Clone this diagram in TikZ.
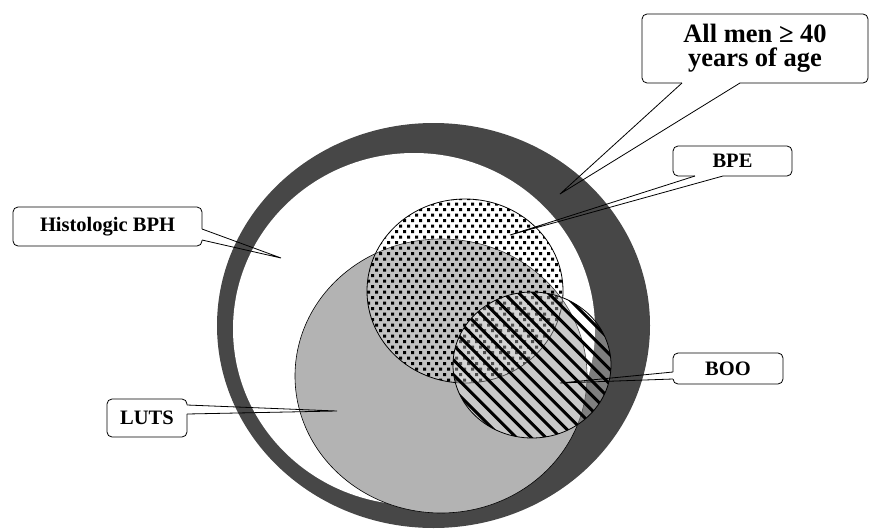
\documentclass[tikz,border=0pt]{standalone}
\usepackage{fontspec}
\setmainfont{Liberation Serif}
\definecolor{ringgray}{HTML}{474747}
\definecolor{lutsgray}{HTML}{B3B3B3}
\begin{document}
\begin{tikzpicture}[x=1pt, y=-1pt,
    callbox/.style={draw, rounded corners=5pt, fill=white, inner sep=0pt, outer sep=0pt, line width=0.8pt, font=\fontsize{20.5}{22}\selectfont\bfseries},
    wedge/.style={line width=0.8pt},
    gapfix/.style={white, line width=1.8pt}]
    \useasboundingbox (0,0) rectangle (870,530);
    \fill[ringgray] (433.5,325.5) ellipse [x radius=216.5pt, y radius=202.5pt];
    \fill[white] (414,329) ellipse [x radius=181pt, y radius=176pt];
    \filldraw[fill=lutsgray, line width=0.6pt] (441,376) ellipse [x radius=146pt, y radius=137pt];
    \fill[white, fill opacity=0.2] (465,291) ellipse [x radius=98pt, y radius=92pt];
    \begin{scope}
        \clip (465,291) ellipse [x radius=98pt, y radius=92pt];
        \foreach \r in {0,...,34}
            \fill \foreach \c in {0,...,25} {({363+8*\c+4*mod(\r,2)},{197+5.5*\r}) rectangle ++(3,3)};
    \end{scope}
    \draw[line width=0.8pt] (465,291) ellipse [x radius=98pt, y radius=92pt];
    \fill[white, fill opacity=0.3] (532,365) ellipse [x radius=79pt, y radius=73pt];
    \begin{scope}
        \clip (532,365) ellipse [x radius=79pt, y radius=73pt];
        \foreach \k in {-11,...,11}
            \draw[line width=3pt] ({372+14.7*\k},205) -- ({692+14.7*\k},525);
    \end{scope}
    \draw[line width=0.8pt] (532,365) ellipse [x radius=79pt, y radius=73pt];
    \node[callbox, minimum width=226pt, minimum height=69pt, align=center, font=\fontsize{26.5}{24}\selectfont\bfseries] (men) at (755,48.5) {All men ≥ 40\\years of age};
    \node[callbox, minimum width=119pt, minimum height=30pt] (bpe) at (732.5,161) {BPE};
    \node[callbox, minimum width=189pt, minimum height=39pt] (hist) at (107.5,226.5) {Histologic BPH};
    \node[callbox, minimum width=80pt, minimum height=38pt] (luts) at (147,418) {LUTS};
    \node[callbox, minimum width=110pt, minimum height=31pt] (boo) at (728,368.5) {BOO};
    \coordinate (mentip) at (560,194);
    \coordinate (bpetip) at (510,235);
    \coordinate (histtip) at (281,258);
    \coordinate (lutstip) at (337,411);
    \coordinate (bootip) at (560,383);
    \draw[gapfix] ([xshift=-73pt]men.south) -- ([xshift=-15pt]men.south);
    \draw[wedge] ([xshift=-73pt]men.south) -- (mentip) -- ([xshift=-15pt]men.south);
    \draw[gapfix] ([xshift=-37.5pt]bpe.south) -- ([xshift=-9.5pt]bpe.south);
    \draw[wedge] ([xshift=-37.5pt]bpe.south) -- (bpetip) -- ([xshift=-9.5pt]bpe.south);
    \draw[gapfix] ([yshift=-2.5pt]hist.east) -- ([yshift=-13.5pt]hist.east);
    \draw[wedge] ([yshift=-2.5pt]hist.east) -- (histtip) -- ([yshift=-13.5pt]hist.east);
    \draw[gapfix] ([yshift=13pt]luts.east) -- ([yshift=4pt]luts.east);
    \draw[wedge] ([yshift=13pt]luts.east) -- (lutstip) -- ([yshift=4pt]luts.east);
    \draw[gapfix] ([yshift=-3.5pt]boo.west) -- ([yshift=-10.5pt]boo.west);
    \draw[wedge] ([yshift=-3.5pt]boo.west) -- (bootip) -- ([yshift=-10.5pt]boo.west);
\end{tikzpicture}
\end{document}
